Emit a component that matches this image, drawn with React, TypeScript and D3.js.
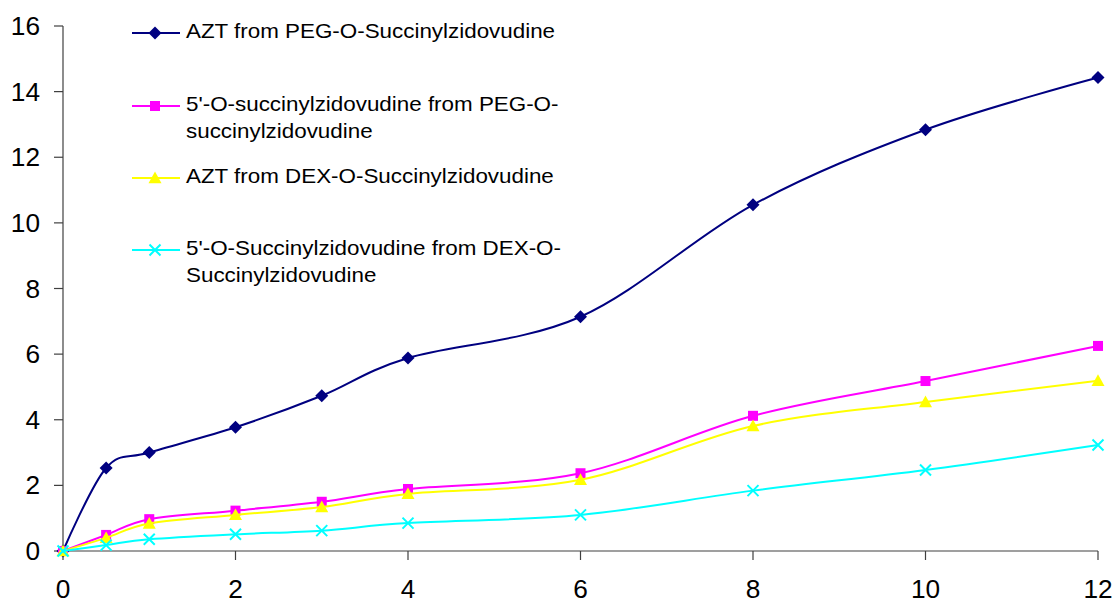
import React from "react";
import * as d3 from "d3";

const xValues = [0, 0.5, 1, 2, 3, 4, 6, 8, 10, 12];
const aztPeg = [0, 2.53, 3.0, 3.77, 4.73, 5.88, 7.14, 10.55, 12.84, 14.43];
const succPeg = [0, 0.49, 0.97, 1.23, 1.5, 1.89, 2.37, 4.12, 5.18, 6.25];
const aztDex = [0, 0.4, 0.84, 1.1, 1.34, 1.74, 2.17, 3.81, 4.54, 5.19];
const succDex = [0, 0.18, 0.36, 0.51, 0.62, 0.85, 1.1, 1.84, 2.47, 3.23];
const xTicks = [0, 2, 4, 6, 8, 10, 12];
const yTicks = [0, 2, 4, 6, 8, 10, 12, 14, 16];

const seriesNames = [
  ["AZT from PEG-O-Succinylzidovudine"],
  ["5'-O-succinylzidovudine from PEG-O-", "succinylzidovudine"],
  ["AZT from DEX-O-Succinylzidovudine"],
  ["5'-O-Succinylzidovudine from DEX-O-", "Succinylzidovudine"],
];
const seriesColors = ["#000080", "#FF00FF", "#FFFF00", "#00FFFF"];
const seriesMarkers = ["diamond", "square", "triangle", "x"];
const seriesValues = [aztPeg, succPeg, aztDex, succDex];

const W = 1118;
const H = 605;
const left = 63;
const right = 1098;
const top = 26;
const bottom = 551;

function Marker({ type, x, y, color }: { type: string; x: number; y: number; color: string }) {
  if (type === "diamond") {
    const r = 6.5;
    return <path d={`M${x},${y - r}L${x + r},${y}L${x},${y + r}L${x - r},${y}Z`} fill={color} />;
  }
  if (type === "square") {
    const r = 5;
    return <rect x={x - r} y={y - r} width={2 * r} height={2 * r} fill={color} />;
  }
  if (type === "triangle") {
    const r = 6.5;
    return <path d={`M${x},${y - r}L${x + r},${y + r * 0.8}L${x - r},${y + r * 0.8}Z`} fill={color} />;
  }
  const r = 5.5;
  return (
    <path
      d={`M${x - r},${y - r}L${x + r},${y + r}M${x - r},${y + r}L${x + r},${y - r}`}
      stroke={color}
      strokeWidth={2}
      fill="none"
    />
  );
}

export default function App() {
  const xScale = d3.scaleLinear().domain([0, 12]).range([left, right]);
  const yScale = d3.scaleLinear().domain([0, 16]).range([bottom, top]);
  const line = d3
    .line<number>()
    .x((_, i) => xScale(xValues[i]))
    .y((d) => yScale(d))
    .curve(d3.curveCatmullRom.alpha(0));

  const legendRows = [31, 104, 176, 248];

  return (
    <svg
      width={W}
      height={H}
      style={{ position: "absolute", left: 0, top: 0, fontFamily: "'Liberation Sans', Arial, sans-serif" }}
    >
      <rect width={W} height={H} fill="#ffffff" />
      {/* axes */}
      <line x1={left} x2={left} y1={top} y2={bottom} stroke="#404040" strokeWidth={1.2} />
      <line x1={left} x2={right} y1={bottom} y2={bottom} stroke="#404040" strokeWidth={1.2} />
      {yTicks.map((t) => (
        <g key={"y" + t}>
          <line x1={left - 9} x2={left} y1={yScale(t)} y2={yScale(t)} stroke="#404040" strokeWidth={1.2} />
          <text
            transform={`translate(40,${yScale(t)}) scale(1.05,1)`}
            dy="0.36em"
            textAnchor="end"
            fontSize={25}
            fill="#000"
          >
            {t}
          </text>
        </g>
      ))}
      {xTicks.map((t) => (
        <g key={"x" + t}>
          <line x1={xScale(t)} x2={xScale(t)} y1={bottom} y2={bottom + 9} stroke="#404040" strokeWidth={1.2} />
          <text
            transform={`translate(${xScale(t)},598) scale(1.05,1)`}
            textAnchor="middle"
            fontSize={25}
            fill="#000"
          >
            {t}
          </text>
        </g>
      ))}
      {/* series */}
      {seriesValues.map((vals, si) => (
        <g key={"s" + si}>
          <path d={line(vals) || ""} fill="none" stroke={seriesColors[si]} strokeWidth={2} />
          {vals.map((v, i) => (
            <Marker key={i} type={seriesMarkers[si]} x={xScale(xValues[i])} y={yScale(v)} color={seriesColors[si]} />
          ))}
        </g>
      ))}
      {/* legend */}
      {seriesNames.map((lines, si) => (
        <g key={"l" + si}>
          <line x1={132} x2={180} y1={legendRows[si] + 2} y2={legendRows[si] + 2} stroke={seriesColors[si]} strokeWidth={1.8} />
          <Marker type={seriesMarkers[si]} x={155} y={legendRows[si] + 2} color={seriesColors[si]} />
          {lines.map((txt, li) => (
            <text
              key={li}
              transform={`translate(186,${legendRows[si] + li * 27}) scale(1.12,1)`}
              dy="0.36em"
              fontSize={20}
              fill="#000"
            >
              {txt}
            </text>
          ))}
        </g>
      ))}
    </svg>
  );
}
